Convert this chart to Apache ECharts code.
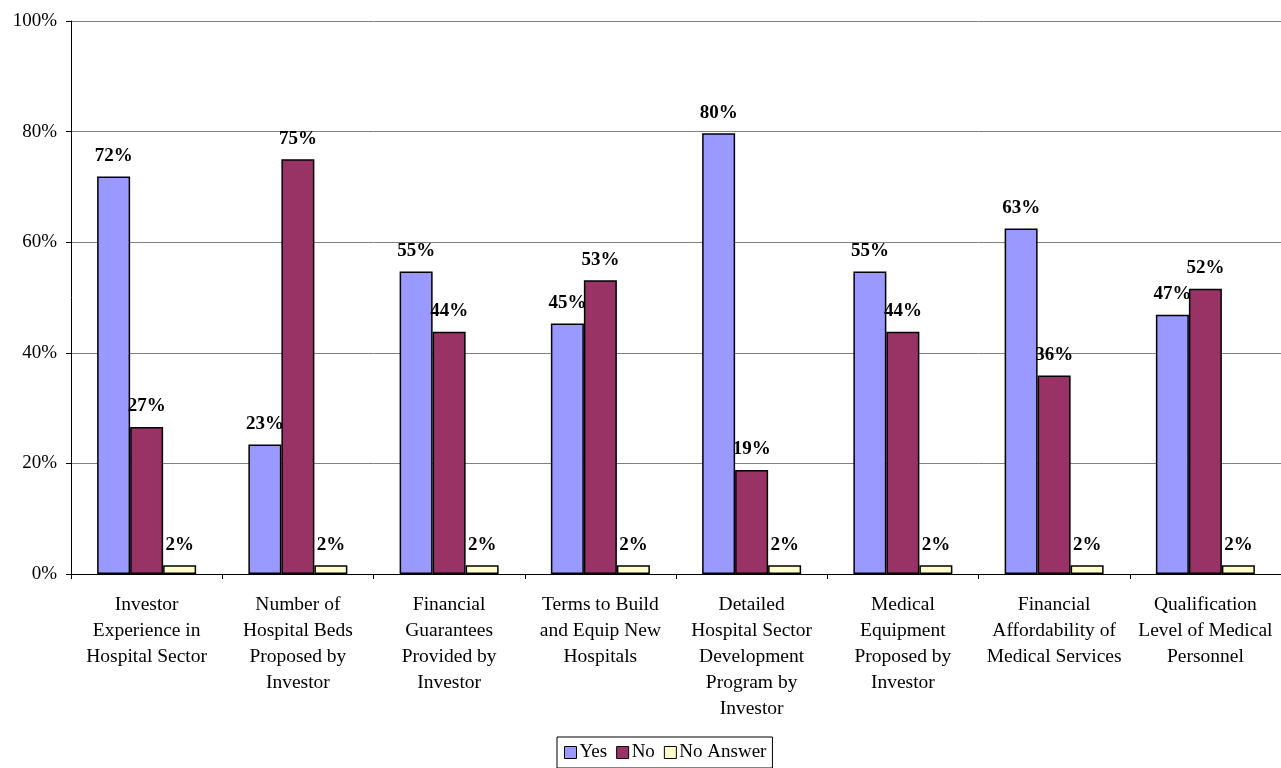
<!DOCTYPE html>
<html>
<head>
<meta charset="utf-8">
<script src="https://cdn.jsdelivr.net/npm/echarts@6/dist/echarts.min.js"></script>
<style>
html,body{margin:0;padding:0;background:#fff;}
#chart{width:1281px;height:768px;}
</style>
</head>
<body>
<div id="chart"></div>
<script>
const categories = [
  "Investor\nExperience in\nHospital Sector",
  "Number of\nHospital Beds\nProposed by\nInvestor",
  "Financial\nGuarantees\nProvided by\nInvestor",
  "Terms to Build\nand Equip New\nHospitals",
  "Detailed\nHospital Sector\nDevelopment\nProgram by\nInvestor",
  "Medical\nEquipment\nProposed by\nInvestor",
  "Financial\nAffordability of\nMedical Services",
  "Qualification\nLevel of Medical\nPersonnel"
];
const seriesNames = ["Yes", "No", "No Answer"];
const yesValues = [71.9, 23.4, 54.7, 45.3, 79.7, 54.7, 62.5, 46.9];
const noValues = [26.6, 75.0, 43.8, 53.1, 18.8, 43.8, 35.9, 51.6];
const noAnswerValues = [1.6, 1.6, 1.6, 1.6, 1.6, 1.6, 1.6, 1.6];
const yTicks = [0, 20, 40, 60, 80, 100];

const FONT = '"Liberation Serif", "DejaVu Serif", serif';
const colors = ['#9999FF', '#993366', '#FFFFCC'];

function mkSeries(name, data, color) {
  return {
    name: name,
    type: 'bar',
    data: data,
    barWidth: 33,
    barGap: '0%',
    itemStyle: { color: color, borderColor: '#000', borderWidth: 1.5 },
    label: {
      show: true,
      position: 'top',
      distance: 11,
      formatter: p => Math.round(p.value) + '%',
      fontFamily: FONT,
      fontWeight: 'bold',
      fontSize: 19,
      color: '#000'
    }
  };
}

const chart = echarts.init(document.getElementById('chart'));
chart.setOption({
  animation: false,
  backgroundColor: '#fff',
  grid: { left: 71, right: 0, top: 21, bottom: 194, containLabel: false },
  legend: {
    data: seriesNames,
    top: 737,
    left: 557,
    itemWidth: 12,
    itemHeight: 12,
    itemGap: 9,
    icon: 'rect',
    borderColor: '#000',
    borderWidth: 1,
    padding: [6, 6, 6, 7],
    textStyle: { fontFamily: FONT, fontSize: 19, color: '#000', padding: [0, 0, 0, -2] },
    itemStyle: { borderColor: '#000', borderWidth: 1 }
  },
  xAxis: {
    type: 'category',
    data: categories,
    boundaryGap: true,
    axisLine: { lineStyle: { color: '#000', width: 1 } },
    axisTick: { show: true, length: 5, alignWithLabel: false, lineStyle: { color: '#000' } },
    axisLabel: {
      interval: 0,
      margin: 18,
      fontFamily: FONT,
      fontSize: 19.5,
      lineHeight: 26,
      color: '#000'
    }
  },
  yAxis: {
    type: 'value',
    min: yTicks[0],
    max: yTicks[yTicks.length - 1],
    interval: 20,
    axisLine: { show: true, lineStyle: { color: '#000', width: 1 } },
    axisTick: { show: true, length: 5, lineStyle: { color: '#000' } },
    splitLine: { show: true, lineStyle: { color: '#808080', width: 1 } },
    axisLabel: {
      margin: 14,
      fontFamily: FONT,
      fontSize: 19,
      color: '#000',
      formatter: v => v + '%'
    }
  },
  series: [
    mkSeries(seriesNames[0], yesValues, colors[0]),
    mkSeries(seriesNames[1], noValues, colors[1]),
    mkSeries(seriesNames[2], noAnswerValues, colors[2])
  ]
});
</script>
</body>
</html>
